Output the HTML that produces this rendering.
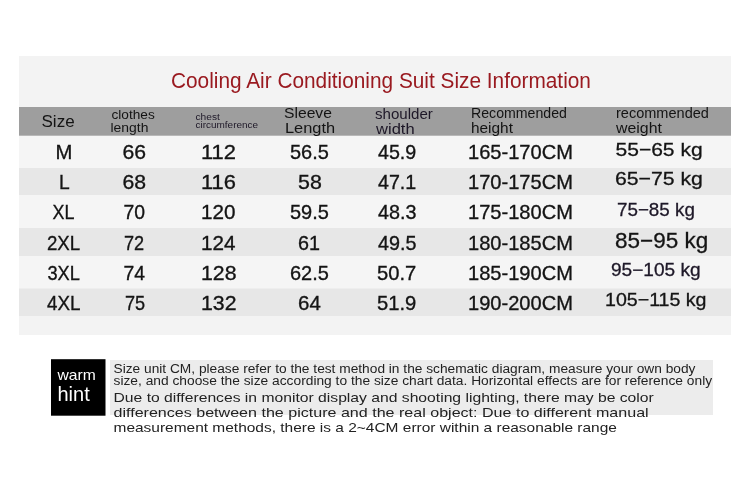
<!DOCTYPE html>
<html><head><meta charset="utf-8"><style>html,body{margin:0;padding:0;background:#fff;overflow:hidden}svg{display:block;will-change:transform}text{font-family:"Liberation Sans",sans-serif}</style></head><body>
<svg width="750" height="493" viewBox="0 0 750 493">
<rect x="0" y="0" width="750" height="493" fill="#ffffff"/>
<rect x="19" y="56" width="712" height="279" fill="#f3f3f3"/>
<rect x="19" y="107" width="712" height="28.7" fill="#9e9e9e"/>
<rect x="19" y="136" width="712" height="32" fill="#f5f5f5"/>
<rect x="19" y="168" width="712" height="27" fill="#e7e7e7"/>
<rect x="19" y="195" width="712" height="33" fill="#f5f5f5"/>
<rect x="19" y="228" width="712" height="28" fill="#e7e7e7"/>
<rect x="19" y="256" width="712" height="32.5" fill="#f5f5f5"/>
<rect x="19" y="288.5" width="712" height="27.5" fill="#e7e7e7"/>
<rect x="51" y="359.2" width="54.5" height="56.5" fill="#000000"/>
<rect x="110" y="360" width="603" height="55" fill="#ececec"/>
<text x="171.00" y="88" font-size="22" fill="#9a1a20" textLength="419.92" lengthAdjust="spacingAndGlyphs">Cooling Air Conditioning Suit Size Information</text>
<text x="41.50" y="126.7" font-size="16" fill="#141414" textLength="33.12" lengthAdjust="spacingAndGlyphs">Size</text>
<text x="111.50" y="119.2" font-size="12" fill="#141414" textLength="43.23" lengthAdjust="spacingAndGlyphs">clothes</text>
<text x="110.50" y="132.2" font-size="12" fill="#141414" textLength="37.90" lengthAdjust="spacingAndGlyphs">length</text>
<text x="195.50" y="119.8" font-size="8.5" fill="#1e1828" textLength="24.33" lengthAdjust="spacingAndGlyphs">chest</text>
<text x="195.50" y="128.2" font-size="8.5" fill="#1e1828" textLength="62.59" lengthAdjust="spacingAndGlyphs">circumference</text>
<text x="284.00" y="117.8" font-size="14.5" fill="#141414" textLength="47.94" lengthAdjust="spacingAndGlyphs">Sleeve</text>
<text x="285.00" y="132.5" font-size="14.5" fill="#141414" textLength="50.16" lengthAdjust="spacingAndGlyphs">Length</text>
<text x="375.00" y="118.6" font-size="14.5" fill="#1e1828" textLength="57.83" lengthAdjust="spacingAndGlyphs">shoulder</text>
<text x="376.00" y="133.8" font-size="14.5" fill="#1e1828" textLength="38.66" lengthAdjust="spacingAndGlyphs">width</text>
<text x="471.00" y="118.4" font-size="14" fill="#141414" textLength="95.94" lengthAdjust="spacingAndGlyphs">Recommended</text>
<text x="471.00" y="132.5" font-size="14" fill="#141414" textLength="41.96" lengthAdjust="spacingAndGlyphs">height</text>
<text x="616.00" y="118.4" font-size="14" fill="#141414" textLength="92.90" lengthAdjust="spacingAndGlyphs">recommended</text>
<text x="616.00" y="132.5" font-size="14" fill="#141414" textLength="45.87" lengthAdjust="spacingAndGlyphs">weight</text>
<text x="55.50" y="159.2" font-size="21" fill="#141414" stroke="#141414" stroke-width="0.35" textLength="16.90" lengthAdjust="spacingAndGlyphs">M</text>
<text x="122.50" y="159.2" font-size="21" fill="#141414" stroke="#141414" stroke-width="0.35" textLength="23.56" lengthAdjust="spacingAndGlyphs">66</text>
<text x="201.00" y="159.2" font-size="21" fill="#141414" stroke="#141414" stroke-width="0.35" textLength="34.88" lengthAdjust="spacingAndGlyphs">112</text>
<text x="290.00" y="159.2" font-size="21" fill="#141414" stroke="#141414" stroke-width="0.35" textLength="38.88" lengthAdjust="spacingAndGlyphs">56.5</text>
<text x="378.00" y="159.2" font-size="21" fill="#141414" stroke="#141414" stroke-width="0.35" textLength="38.27" lengthAdjust="spacingAndGlyphs">45.9</text>
<text x="468.00" y="159.2" font-size="21" fill="#141414" stroke="#141414" stroke-width="0.35" textLength="104.93" lengthAdjust="spacingAndGlyphs">165-170CM</text>
<text x="59.00" y="189.4" font-size="21" fill="#141414" stroke="#141414" stroke-width="0.35" textLength="10.69" lengthAdjust="spacingAndGlyphs">L</text>
<text x="122.50" y="189.4" font-size="21" fill="#141414" stroke="#141414" stroke-width="0.35" textLength="23.56" lengthAdjust="spacingAndGlyphs">68</text>
<text x="201.00" y="189.4" font-size="21" fill="#141414" stroke="#141414" stroke-width="0.35" textLength="34.88" lengthAdjust="spacingAndGlyphs">116</text>
<text x="298.00" y="189.4" font-size="21" fill="#141414" stroke="#141414" stroke-width="0.35" textLength="23.76" lengthAdjust="spacingAndGlyphs">58</text>
<text x="378.00" y="189.4" font-size="21" fill="#141414" stroke="#141414" stroke-width="0.35" textLength="38.27" lengthAdjust="spacingAndGlyphs">47.1</text>
<text x="468.00" y="189.4" font-size="21" fill="#141414" stroke="#141414" stroke-width="0.35" textLength="104.93" lengthAdjust="spacingAndGlyphs">170-175CM</text>
<text x="52.50" y="219.4" font-size="21" fill="#141414" stroke="#141414" stroke-width="0.35" textLength="21.89" lengthAdjust="spacingAndGlyphs">XL</text>
<text x="123.50" y="219.4" font-size="21" fill="#141414" stroke="#141414" stroke-width="0.35" textLength="21.56" lengthAdjust="spacingAndGlyphs">70</text>
<text x="201.00" y="219.4" font-size="21" fill="#141414" stroke="#141414" stroke-width="0.35" textLength="34.45" lengthAdjust="spacingAndGlyphs">120</text>
<text x="290.00" y="219.4" font-size="21" fill="#141414" stroke="#141414" stroke-width="0.35" textLength="38.88" lengthAdjust="spacingAndGlyphs">59.5</text>
<text x="378.00" y="219.4" font-size="21" fill="#141414" stroke="#141414" stroke-width="0.35" textLength="38.47" lengthAdjust="spacingAndGlyphs">48.3</text>
<text x="468.00" y="219.4" font-size="21" fill="#141414" stroke="#141414" stroke-width="0.35" textLength="104.93" lengthAdjust="spacingAndGlyphs">175-180CM</text>
<text x="47.00" y="249.6" font-size="21" fill="#141414" stroke="#141414" stroke-width="0.35" textLength="33.18" lengthAdjust="spacingAndGlyphs">2XL</text>
<text x="124.00" y="249.6" font-size="21" fill="#141414" stroke="#141414" stroke-width="0.35" textLength="20.16" lengthAdjust="spacingAndGlyphs">72</text>
<text x="201.00" y="249.6" font-size="21" fill="#141414" stroke="#141414" stroke-width="0.35" textLength="34.45" lengthAdjust="spacingAndGlyphs">124</text>
<text x="298.00" y="249.6" font-size="21" fill="#141414" stroke="#141414" stroke-width="0.35" textLength="21.96" lengthAdjust="spacingAndGlyphs">61</text>
<text x="378.00" y="249.6" font-size="21" fill="#141414" stroke="#141414" stroke-width="0.35" textLength="38.47" lengthAdjust="spacingAndGlyphs">49.5</text>
<text x="468.00" y="249.6" font-size="21" fill="#141414" stroke="#141414" stroke-width="0.35" textLength="104.93" lengthAdjust="spacingAndGlyphs">180-185CM</text>
<text x="47.50" y="279.6" font-size="21" fill="#141414" stroke="#141414" stroke-width="0.35" textLength="32.38" lengthAdjust="spacingAndGlyphs">3XL</text>
<text x="123.50" y="279.6" font-size="21" fill="#141414" stroke="#141414" stroke-width="0.35" textLength="21.56" lengthAdjust="spacingAndGlyphs">74</text>
<text x="201.00" y="279.6" font-size="21" fill="#141414" stroke="#141414" stroke-width="0.35" textLength="35.45" lengthAdjust="spacingAndGlyphs">128</text>
<text x="290.00" y="279.6" font-size="21" fill="#141414" stroke="#141414" stroke-width="0.35" textLength="38.88" lengthAdjust="spacingAndGlyphs">62.5</text>
<text x="377.00" y="279.6" font-size="21" fill="#141414" stroke="#141414" stroke-width="0.35" textLength="39.27" lengthAdjust="spacingAndGlyphs">50.7</text>
<text x="468.00" y="279.6" font-size="21" fill="#141414" stroke="#141414" stroke-width="0.35" textLength="104.93" lengthAdjust="spacingAndGlyphs">185-190CM</text>
<text x="47.00" y="309.6" font-size="21" fill="#141414" stroke="#141414" stroke-width="0.35" textLength="33.38" lengthAdjust="spacingAndGlyphs">4XL</text>
<text x="125.00" y="309.6" font-size="21" fill="#141414" stroke="#141414" stroke-width="0.35" textLength="20.16" lengthAdjust="spacingAndGlyphs">75</text>
<text x="201.00" y="309.6" font-size="21" fill="#141414" stroke="#141414" stroke-width="0.35" textLength="35.45" lengthAdjust="spacingAndGlyphs">132</text>
<text x="298.00" y="309.6" font-size="21" fill="#141414" stroke="#141414" stroke-width="0.35" textLength="22.76" lengthAdjust="spacingAndGlyphs">64</text>
<text x="377.00" y="309.6" font-size="21" fill="#141414" stroke="#141414" stroke-width="0.35" textLength="39.27" lengthAdjust="spacingAndGlyphs">51.9</text>
<text x="468.00" y="309.6" font-size="21" fill="#141414" stroke="#141414" stroke-width="0.35" textLength="104.93" lengthAdjust="spacingAndGlyphs">190-200CM</text>
<text x="615.50" y="155.7" font-size="19" fill="#141414" stroke="#141414" stroke-width="0.3" textLength="87.12" lengthAdjust="spacingAndGlyphs">55−65 kg</text>
<text x="615.00" y="184.7" font-size="19" fill="#141414" stroke="#141414" stroke-width="0.3" textLength="87.92" lengthAdjust="spacingAndGlyphs">65−75 kg</text>
<text x="617.00" y="215.8" font-size="18.5" fill="#1e1828" stroke="#1e1828" stroke-width="0.3" textLength="77.84" lengthAdjust="spacingAndGlyphs">75−85 kg</text>
<text x="615.00" y="247.5" font-size="22" fill="#141414" stroke="#141414" stroke-width="0.3" textLength="93.14" lengthAdjust="spacingAndGlyphs">85−95 kg</text>
<text x="611.00" y="275.8" font-size="18" fill="#1e1828" stroke="#1e1828" stroke-width="0.3" textLength="89.58" lengthAdjust="spacingAndGlyphs">95−105 kg</text>
<text x="605.00" y="305.8" font-size="18.3" fill="#141414" stroke="#141414" stroke-width="0.3" textLength="101.52" lengthAdjust="spacingAndGlyphs">105−115 kg</text>
<text x="57.50" y="379.9" font-size="15" fill="#ffffff" textLength="38.27" lengthAdjust="spacingAndGlyphs">warm</text>
<text x="57.50" y="401.2" font-size="20" fill="#ffffff" textLength="32.25" lengthAdjust="spacingAndGlyphs">hint</text>
<text x="113.50" y="372.5" font-size="12" fill="#222" textLength="581.92" lengthAdjust="spacingAndGlyphs">Size unit CM, please refer to the test method in the schematic diagram, measure your own body</text>
<text x="113.50" y="385" font-size="12" fill="#222" textLength="598.61" lengthAdjust="spacingAndGlyphs">size, and choose the size according to the size chart data. Horizontal effects are for reference only</text>
<text x="113.50" y="401.9" font-size="13.2" fill="#222" textLength="540.27" lengthAdjust="spacingAndGlyphs">Due to differences in monitor display and shooting lighting, there may be color</text>
<text x="113.50" y="416.8" font-size="13.2" fill="#222" textLength="535.19" lengthAdjust="spacingAndGlyphs">differences between the picture and the real object: Due to different manual</text>
<text x="113.50" y="431.7" font-size="13.2" fill="#222" textLength="503.39" lengthAdjust="spacingAndGlyphs">measurement methods, there is a 2~4CM error within a reasonable range</text>
</svg></body></html>
